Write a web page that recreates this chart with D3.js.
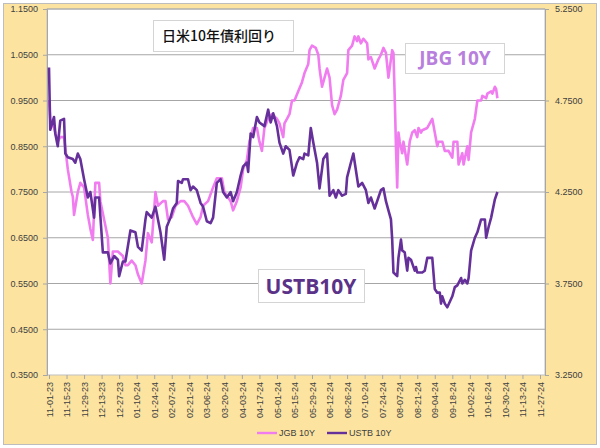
<!DOCTYPE html>
<html><head><meta charset="utf-8">
<script src="https://cdn.jsdelivr.net/npm/d3@7"></script>
<style>body{margin:0;background:#fff;} svg{display:block;}</style>
</head><body>
<svg id="c" width="600" height="448"></svg>
<script>
const jgbDates = ["2023-11-01","2023-11-02","2023-11-05","2023-11-08","2023-11-10","2023-11-13","2023-11-16","2023-11-19","2023-11-20","2023-11-21","2023-11-24","2023-11-26","2023-11-29","2023-12-02","2023-12-04","2023-12-06","2023-12-08","2023-12-11","2023-12-12","2023-12-15","2023-12-18","2023-12-20","2023-12-22","2023-12-26","2023-12-30","2024-01-01","2024-01-03","2024-01-06","2024-01-09","2024-01-11","2024-01-14","2024-01-17","2024-01-19","2024-01-22","2024-01-25","2024-01-27","2024-01-31","2024-02-02","2024-02-04","2024-02-07","2024-02-10","2024-02-14","2024-02-17","2024-02-20","2024-02-24","2024-02-27","2024-03-01","2024-03-03","2024-03-07","2024-03-11","2024-03-14","2024-03-18","2024-03-20","2024-03-25","2024-03-27","2024-03-30","2024-04-02","2024-04-04","2024-04-07","2024-04-09","2024-04-12","2024-04-15","2024-04-17","2024-04-19","2024-04-21","2024-04-24","2024-04-27","2024-05-01","2024-05-03","2024-05-06","2024-05-07","2024-05-09","2024-05-11","2024-05-13","2024-05-15","2024-05-18","2024-05-21","2024-05-23","2024-05-26","2024-05-27","2024-05-29","2024-06-01","2024-06-03","2024-06-04","2024-06-06","2024-06-08","2024-06-10","2024-06-12","2024-06-14","2024-06-16","2024-06-18","2024-06-21","2024-06-23","2024-06-26","2024-06-27","2024-06-30","2024-07-02","2024-07-04","2024-07-05","2024-07-07","2024-07-09","2024-07-12","2024-07-13","2024-07-15","2024-07-18","2024-07-21","2024-07-23","2024-07-25","2024-07-27","2024-07-29","2024-08-01","2024-08-02","2024-08-03","2024-08-04","2024-08-05","2024-08-06","2024-08-07","2024-08-09","2024-08-10","2024-08-13","2024-08-15","2024-08-17","2024-08-19","2024-08-21","2024-08-22","2024-08-24","2024-08-25","2024-08-29","2024-08-31","2024-09-02","2024-09-04","2024-09-06","2024-09-07","2024-09-10","2024-09-12","2024-09-15","2024-09-18","2024-09-19","2024-09-22","2024-09-23","2024-09-26","2024-09-27","2024-09-30","2024-10-01","2024-10-03","2024-10-06","2024-10-08","2024-10-11","2024-10-12","2024-10-15","2024-10-16","2024-10-19","2024-10-20","2024-10-22","2024-10-23","2024-10-24"];
const jgbValues = [0.95,0.91,0.89,0.86,0.87,0.87,0.80,0.75,0.74,0.70,0.75,0.77,0.76,0.70,0.67,0.645,0.77,0.77,0.73,0.69,0.65,0.55,0.62,0.62,0.61,0.59,0.59,0.60,0.59,0.57,0.55,0.60,0.66,0.64,0.75,0.72,0.73,0.73,0.69,0.695,0.72,0.73,0.73,0.72,0.695,0.68,0.695,0.72,0.73,0.76,0.78,0.78,0.75,0.73,0.71,0.73,0.76,0.80,0.82,0.86,0.89,0.89,0.86,0.84,0.89,0.91,0.92,0.91,0.90,0.87,0.90,0.91,0.92,0.95,0.95,0.97,0.99,1.01,1.03,1.06,1.07,1.065,1.05,1.02,0.98,1.00,1.02,1.00,0.94,0.92,0.93,0.96,0.995,1.01,1.06,1.07,1.09,1.08,1.09,1.075,1.085,1.075,1.04,1.045,1.02,1.04,1.05,1.065,1.054,1.00,1.06,1.054,0.96,0.85,0.76,0.88,0.86,0.835,0.86,0.81,0.86,0.88,0.885,0.87,0.89,0.88,0.885,0.89,0.90,0.91,0.88,0.85,0.86,0.86,0.84,0.84,0.825,0.86,0.86,0.81,0.835,0.81,0.85,0.82,0.88,0.91,0.95,0.95,0.96,0.955,0.965,0.97,0.965,0.98,0.975,0.955];

const ustDates = ["2023-11-01","2023-11-02","2023-11-05","2023-11-06","2023-11-08","2023-11-10","2023-11-13","2023-11-14","2023-11-16","2023-11-20","2023-11-22","2023-11-24","2023-11-26","2023-11-29","2023-12-02","2023-12-04","2023-12-07","2023-12-08","2023-12-11","2023-12-14","2023-12-18","2023-12-20","2023-12-23","2023-12-26","2023-12-27","2023-12-30","2024-01-01","2024-01-05","2024-01-09","2024-01-11","2024-01-14","2024-01-17","2024-01-18","2024-01-22","2024-01-25","2024-01-29","2024-02-01","2024-02-03","2024-02-06","2024-02-08","2024-02-11","2024-02-12","2024-02-15","2024-02-16","2024-02-20","2024-02-22","2024-02-24","2024-02-27","2024-03-01","2024-03-03","2024-03-06","2024-03-09","2024-03-11","2024-03-14","2024-03-17","2024-03-19","2024-03-22","2024-03-25","2024-03-27","2024-03-30","2024-04-02","2024-04-04","2024-04-07","2024-04-08","2024-04-10","2024-04-12","2024-04-15","2024-04-17","2024-04-21","2024-04-24","2024-04-26","2024-04-28","2024-05-01","2024-05-03","2024-05-06","2024-05-08","2024-05-11","2024-05-14","2024-05-17","2024-05-19","2024-05-22","2024-05-23","2024-05-26","2024-05-28","2024-05-30","2024-06-02","2024-06-04","2024-06-07","2024-06-10","2024-06-12","2024-06-15","2024-06-17","2024-06-19","2024-06-22","2024-06-25","2024-06-26","2024-06-29","2024-07-01","2024-07-03","2024-07-05","2024-07-08","2024-07-11","2024-07-13","2024-07-15","2024-07-18","2024-07-21","2024-07-23","2024-07-25","2024-07-27","2024-07-29","2024-07-31","2024-08-01","2024-08-02","2024-08-05","2024-08-06","2024-08-08","2024-08-09","2024-08-11","2024-08-13","2024-08-14","2024-08-16","2024-08-17","2024-08-19","2024-08-20","2024-08-21","2024-08-25","2024-08-27","2024-08-29","2024-08-31","2024-09-02","2024-09-04","2024-09-06","2024-09-08","2024-09-09","2024-09-10","2024-09-12","2024-09-14","2024-09-18","2024-09-20","2024-09-22","2024-09-25","2024-09-26","2024-09-28","2024-09-30","2024-10-01","2024-10-03","2024-10-06","2024-10-08","2024-10-11","2024-10-14","2024-10-15","2024-10-17","2024-10-19","2024-10-22","2024-10-24"];
const ustValues = [4.93,4.59,4.66,4.57,4.50,4.64,4.65,4.46,4.44,4.43,4.41,4.46,4.43,4.32,4.22,4.25,4.11,4.22,4.22,3.92,3.92,3.86,3.90,3.88,3.79,3.87,3.87,4.04,4.03,3.95,3.93,4.10,4.14,4.11,4.17,4.03,3.88,4.06,4.11,4.16,4.19,4.31,4.30,4.32,4.32,4.26,4.28,4.26,4.19,4.17,4.09,4.08,4.11,4.30,4.32,4.25,4.22,4.25,4.20,4.25,4.34,4.39,4.41,4.36,4.57,4.55,4.66,4.63,4.61,4.70,4.63,4.68,4.61,4.52,4.46,4.50,4.48,4.34,4.41,4.44,4.43,4.46,4.45,4.60,4.52,4.41,4.27,4.43,4.46,4.23,4.26,4.22,4.26,4.23,4.24,4.33,4.41,4.46,4.37,4.28,4.30,4.26,4.19,4.22,4.16,4.22,4.26,4.27,4.20,4.15,4.10,3.99,3.81,3.79,3.89,3.99,3.93,3.92,3.82,3.89,3.88,3.86,3.82,3.84,3.81,3.81,3.82,3.89,3.89,3.89,3.72,3.70,3.70,3.64,3.68,3.64,3.62,3.68,3.73,3.74,3.78,3.75,3.77,3.75,3.78,3.93,4.00,4.03,4.10,4.10,4.00,4.06,4.11,4.21,4.25];

const xTickDates = ["2023-11-01","2023-11-15","2023-11-29","2023-12-13","2023-12-27","2024-01-10","2024-01-24","2024-02-07","2024-02-21","2024-03-06","2024-03-20","2024-04-03","2024-04-17","2024-05-01","2024-05-15","2024-05-29","2024-06-12","2024-06-26","2024-07-10","2024-07-24","2024-08-07","2024-08-21","2024-09-04","2024-09-18","2024-10-02","2024-10-16","2024-10-30","2024-11-13","2024-11-27"];
const leftTicks = [0.35,0.45,0.55,0.65,0.75,0.85,0.95,1.05,1.15];
const rightTicks = [3.25,3.75,4.25,4.75,5.25];
const seriesNames = ["JGB 10Y","USTB 10Y"];
const titleText = "日米10年債利回り";
const jgbLabel = "JBG 10Y";
const ustLabel = "USTB10Y";

const parse = d3.timeParse("%Y-%m-%d");
const svg = d3.select("#c");
const L = 47, R = 545, T = 9, B = 375;
const pink = "#F07CF0", purple = "#66309B";
const axisFont = "Liberation Sans, Arial, sans-serif";

svg.append("rect").attr("x",3.5).attr("y",3.5).attr("width",593).attr("height",441)
  .attr("fill","#FCE4A0").attr("stroke","#BDBDBD");
svg.append("rect").attr("x",L).attr("y",T).attr("width",R-L).attr("height",B-T)
  .attr("fill","#fff").attr("stroke","#BFBFBF");

const x = d3.scaleTime().domain([parse("2023-11-01"), parse("2024-12-01")]).range([49, R]);
const yL = d3.scaleLinear().domain([0.35,1.15]).range([B,T]);
const yR = d3.scaleLinear().domain([3.25,5.25]).range([B,T]);

svg.append("g").selectAll("line").data(leftTicks.slice(1)).join("line")
  .attr("x1",L).attr("x2",R).attr("y1",d=>yL(d)).attr("y2",d=>yL(d))
  .attr("stroke","#A6A6A6").attr("stroke-width",1);

const gl = svg.append("g").attr("transform",`translate(${L},0)`)
  .call(d3.axisLeft(yL).tickValues(leftTicks).tickFormat(d3.format(".4f")).tickSize(4).tickPadding(5));
gl.select(".domain").attr("stroke","#A6A6A6");
gl.selectAll("line").attr("stroke","#A6A6A6");
gl.selectAll("text").attr("font-family",axisFont).attr("font-size",9).attr("fill","#404040");

const gr = svg.append("g").attr("transform",`translate(${R},0)`)
  .call(d3.axisRight(yR).tickValues(rightTicks).tickFormat(d3.format(".4f")).tickSize(4).tickPadding(6));
gr.select(".domain").attr("stroke","#A6A6A6");
gr.selectAll("line").attr("stroke","#A6A6A6");
gr.selectAll("text").attr("font-family",axisFont).attr("font-size",9).attr("fill","#404040");

const fmt = d3.timeFormat("%m-%d-%y");
const gb = svg.append("g").attr("transform",`translate(0,${B})`)
  .call(d3.axisBottom(x).tickValues(xTickDates.map(parse)).tickFormat(fmt).tickSize(4).tickPadding(6));
gb.select(".domain").remove();
gb.selectAll("line").attr("stroke","#A6A6A6");
gb.selectAll("text").attr("font-family",axisFont).attr("font-size",9).attr("fill","#404040")
  .attr("text-anchor","end").attr("transform","rotate(-90)").attr("x",-7).attr("y",0).attr("dy","0.35em");

const jgb = jgbDates.map((d,i)=>({date:parse(d), v:jgbValues[i]}));
const ust = ustDates.map((d,i)=>({date:parse(d), v:ustValues[i]}));
svg.append("path").datum(jgb)
  .attr("d", d3.line().x(d=>x(d.date)).y(d=>yL(d.v)))
  .attr("fill","none").attr("stroke",pink).attr("stroke-width",2.6).attr("stroke-linejoin","round");
svg.append("path").datum(ust)
  .attr("d", d3.line().x(d=>x(d.date)).y(d=>yR(d.v)))
  .attr("fill","none").attr("stroke",purple).attr("stroke-width",2.6).attr("stroke-linejoin","round");

function box(x0,y0,w,h){
  svg.append("rect").attr("x",x0+0.5).attr("y",y0+0.5).attr("width",w).attr("height",h)
    .attr("fill","#fff").attr("stroke","#D4D4D4");
}
box(153,20,140,31);
svg.append("text").attr("x",162).attr("y",41).text(titleText)
  .attr("font-family","Noto Sans CJK JP, sans-serif").attr("font-size",14).attr("font-weight",500).attr("fill","#111");
box(405,43,99,30);
svg.append("text").attr("x",455).attr("y",65).attr("text-anchor","middle").text(jgbLabel)
  .attr("font-family","Open Sans, Liberation Sans, sans-serif").attr("font-size",19).attr("font-weight",700).attr("fill","#B87FDD");
box(258,269,106,33);
svg.append("text").attr("x",311).attr("y",294).attr("text-anchor","middle").text(ustLabel)
  .attr("font-family","Open Sans, Liberation Sans, sans-serif").attr("font-size",21).attr("font-weight",700).attr("fill","#5A3288");

const lg = svg.append("g");
const legItems = [{name:seriesNames[0], c:pink, x:257},{name:seriesNames[1], c:purple, x:327}];
legItems.forEach(it=>{
  lg.append("line").attr("x1",it.x).attr("x2",it.x+20).attr("y1",433).attr("y2",433)
    .attr("stroke",it.c).attr("stroke-width",2.4);
  lg.append("text").attr("x",it.x+22).attr("y",436).text(it.name)
    .attr("font-family",axisFont).attr("font-size",9).attr("fill","#404040");
});
</script>
</body></html>
